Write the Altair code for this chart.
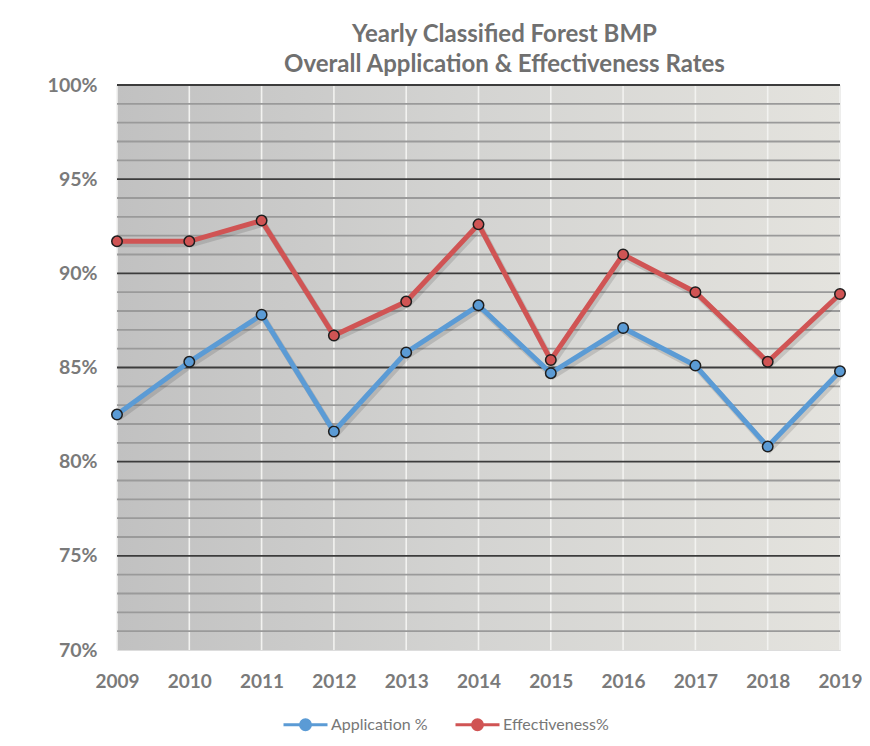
import altair as alt
import pandas as pd

years = [2009, 2010, 2011, 2012, 2013, 2014, 2015, 2016, 2017, 2018, 2019]
application = [82.5, 85.3, 87.8, 81.6, 85.8, 88.3, 84.7, 87.1, 85.1, 80.8, 84.8]
effectiveness = [91.7, 91.7, 92.8, 86.7, 88.5, 92.6, 85.4, 91.0, 89.0, 85.3, 88.9]
series_names = ["Application %", "Effectiveness%"]
series_colors = ["#5b9bd5", "#d05454"]
y_labels = [70, 75, 80, 85, 90, 95, 100]
grid_major = [75, 80, 85, 90, 95, 100]
grid_minor = [v for v in range(71, 100) if v % 5 != 0]

rows = []
for i, yr in enumerate(years):
    rows.append({"Year": str(yr), "Series": series_names[0], "Value": application[i]})
    rows.append({"Year": str(yr), "Series": series_names[1], "Value": effectiveness[i]})
df = pd.DataFrame(rows)

W, H = 723, 565
FONT = "Lato"

xscale = alt.Scale(type="point", padding=0, domain=[str(y) for y in years])
yscale = alt.Scale(domain=[70, 100], nice=False, zero=False)
cscale = alt.Scale(domain=series_names, range=series_colors)

x_axis = alt.Axis(labelAngle=0, labelFont=FONT, labelFontSize=19, labelFontWeight="bold",
                  labelColor="#7a7a7a", labelPadding=22, domain=False, ticks=False, grid=False)
y_axis = alt.Axis(values=y_labels, labelExpr="datum.value + '%'", labelFont=FONT,
                  labelFontSize=19.5, labelFontWeight="bold", labelColor="#7a7a7a",
                  labelPadding=20, domain=False, ticks=False, grid=False)

bg = alt.Chart(pd.DataFrame({"a": [0]})).mark_rect(
    fill=alt.Gradient(
        gradient="linear",
        stops=[
            alt.GradientStop(color="#c1c1c1", offset=0),
            alt.GradientStop(color="#d4d4d2", offset=0.5),
            alt.GradientStop(color="#e4e3de", offset=1),
        ],
        x1=0, x2=1, y1=0, y2=0,
    )
).encode(x=alt.value(0), x2=alt.value(W), y=alt.value(0), y2=alt.value(H))

vgrid = alt.Chart(pd.DataFrame({"Year": [str(y) for y in years]})).mark_rule(
    color="#f2f2f0", strokeWidth=1.6
).encode(x=alt.X("Year:N", scale=xscale, axis=x_axis, title=None))

minor = alt.Chart(pd.DataFrame({"Value": grid_minor})).mark_rule(
    color="#9a9a9a", strokeWidth=1.8
).encode(y=alt.Y("Value:Q", scale=yscale, axis=y_axis, title=None))

major = alt.Chart(pd.DataFrame({"Value": grid_major})).mark_rule(
    color="#3c3c3c", strokeWidth=1.8
).encode(y=alt.Y("Value:Q", scale=yscale, axis=y_axis, title=None))

x_enc = alt.X("Year:N", scale=xscale, title=None, axis=x_axis)
y_enc = alt.Y("Value:Q", scale=yscale, title=None, axis=y_axis)

shadow = alt.Chart(df).mark_line(
    strokeWidth=6, color="#000000", opacity=0.12, xOffset=2, yOffset=3
).encode(x=x_enc, y=y_enc, detail="Series:N")

lines = alt.Chart(df).mark_line(strokeWidth=5).encode(
    x=x_enc, y=y_enc,
    color=alt.Color(
        "Series:N", scale=cscale, title=None,
        legend=alt.Legend(
            orient="none", direction="horizontal", legendX=177, legendY=628,
            symbolType="M-2.2,0H-0.5M0.5,0H2.2M0.5,0A0.5,0.5 0 1,1 -0.5,0A0.5,0.5 0 1,1 0.5,0",
            symbolSize=400, symbolStrokeWidth=3,
            labelFont=FONT, labelFontSize=16, labelColor="#777777",
            columnPadding=21, labelOffset=14,
        ),
    ),
)

points = alt.Chart(df).mark_point(
    filled=True, size=110, stroke="#1e1e1e", strokeWidth=1.5, opacity=1
).encode(
    x=x_enc, y=y_enc,
    fill=alt.Fill("Series:N", scale=cscale, legend=None),
)

chart = alt.layer(bg, vgrid, minor, major, shadow, lines, points).properties(
    width=W, height=H,
    autosize=alt.AutoSizeParams(type="none"),
    padding={"left": 109, "top": 77, "right": 22, "bottom": 88},
    title=alt.TitleParams(
        text=["Yearly Classified Forest BMP", "Overall Application & Effectiveness Rates"],
        font=FONT, fontSize=24, fontWeight="bold", color="#707070",
        anchor="middle", frame="group", dx=26, lineHeight=30, offset=-2,
    ),
).configure_view(stroke=None).configure(background="#ffffff")

chart.save("out.html", embed_options={"renderer": "svg", "actions": False})
